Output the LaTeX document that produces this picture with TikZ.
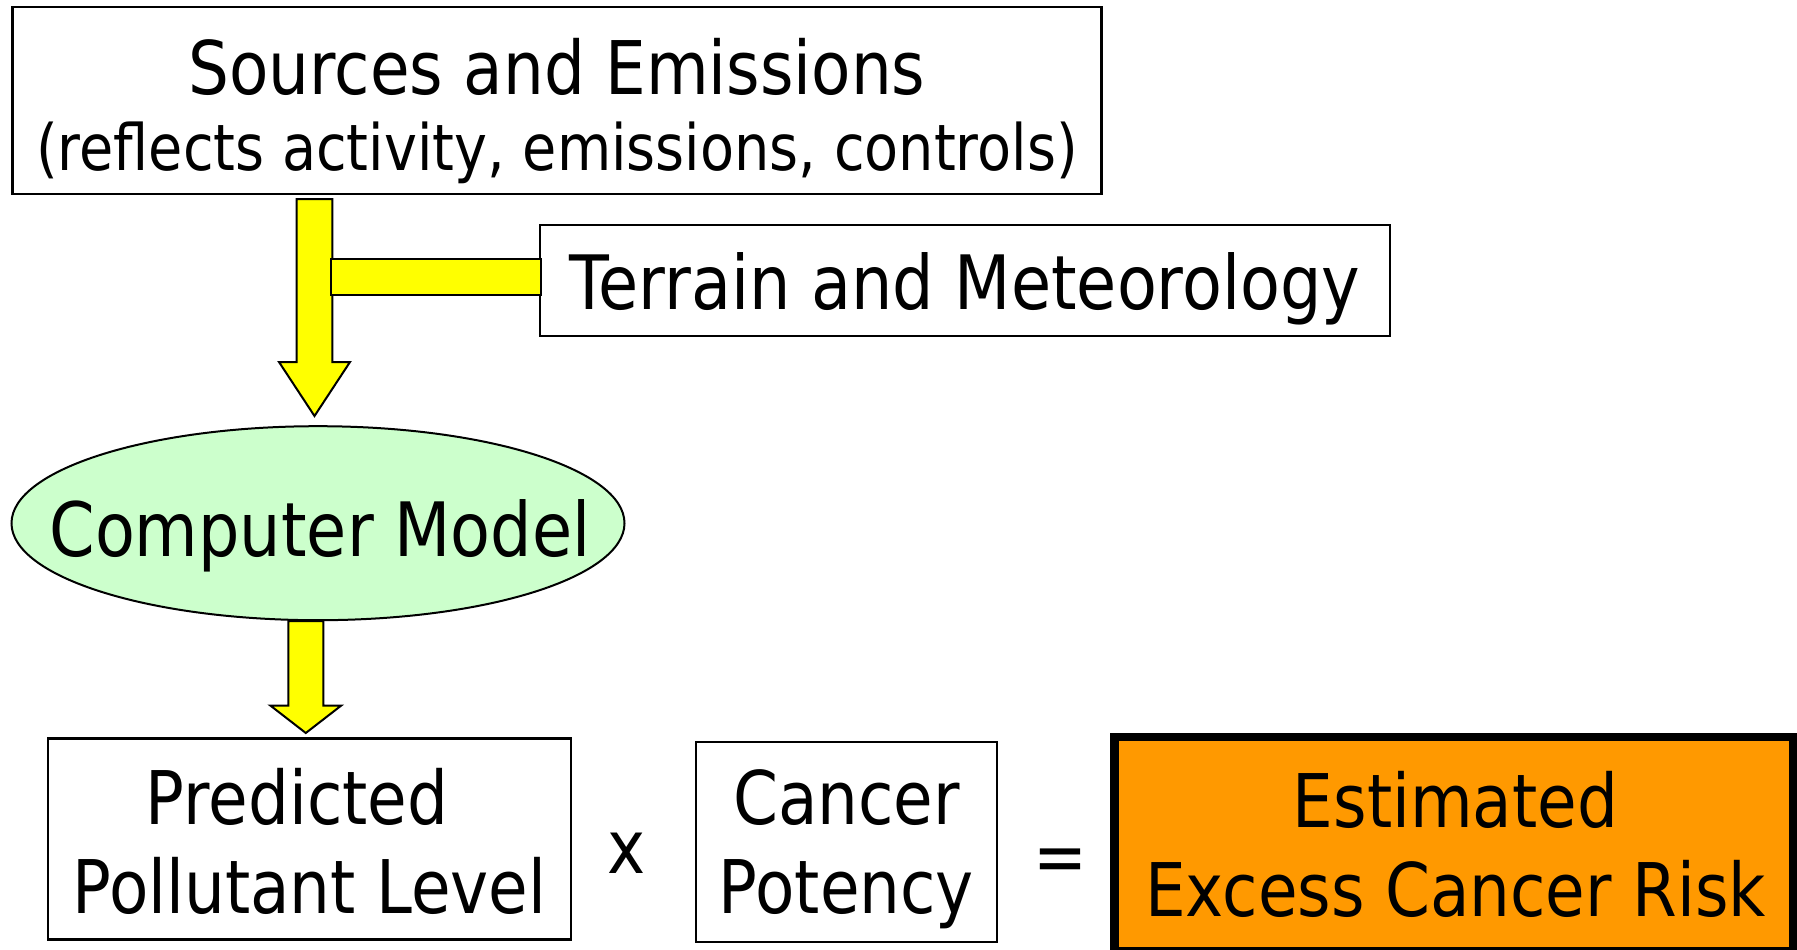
\documentclass[tikz,border=0pt]{standalone}
\usepackage{fontspec}
\setmainfont{DejaVu Sans}[FakeStretch=0.87]
\usetikzlibrary{shapes.geometric,calc}

\definecolor{arrowyellow}{HTML}{FFFF00}
\definecolor{modelgreen}{HTML}{CCFFCC}
\definecolor{riskorange}{HTML}{FF9900}

\tikzset{
  boxframe/.style={draw, line width=2.2pt, inner sep=0pt},
  boxtext/.style={align=center, inner sep=0pt, font=\fontsize{74}{89}\selectfont},
  fatarrow/.style={draw, line width=2pt, fill=arrowyellow, line join=miter},
}

% block arrow: from, to, half shaft, half head, head length
\newcommand{\blockarrow}[5]{%
  \draw[fatarrow] let \p1=(#1), \p2=(#2) in
    (\x1-#3pt,\y1) -- (\x1+#3pt,\y1) -- (\x1+#3pt,\y2+#5pt) -- (\x1+#4pt,\y2+#5pt)
    -- (\x2,\y2) -- (\x1-#4pt,\y2+#5pt) -- (\x1-#3pt,\y2+#5pt) -- cycle;}

\begin{document}
\begin{tikzpicture}[x=1pt, y=-1pt]
	\useasboundingbox (0,0) rectangle (1797,950);
	% top
	\node[boxframe, minimum width=1089pt, minimum height=187pt] (src) at (557,100.3) {};
	\node[boxtext, anchor=base, font=\fontsize{74}{76}\selectfont] (srctext) at (557,170)
		{Sources and Emissions\\{\fontsize{64}{76}\selectfont(reflects activity, emissions, controls)}};
	\node[boxframe, minimum width=850pt, minimum height=111pt, font=\fontsize{75}{80}\selectfont,
		text height=74pt, text depth=15pt] (terrain) at (965,280.2) {Terrain and Meteorology};
	\node[ellipse, draw, line width=2pt, fill=modelgreen, minimum width=613pt, minimum height=194pt,
		inner sep=0pt] (model) at (318,523.2) {};
	\node[boxtext, anchor=base, font=\fontsize{75}{80}\selectfont] (modeltext) at (320,556) {Computer Model};
		% arrows
		\coordinate (srcout) at (314.5,199);
		\coordinate (modelin) at (314.5,416);
		\blockarrow{srcout}{modelin}{17.8}{35.5}{54}
		\draw[fatarrow] (331,259) rectangle ([xshift=2pt, yshift=-15pt]terrain.west);
		\coordinate (modelout) at (305.8,621);
		\coordinate (predin) at (305.8,733);
		\blockarrow{modelout}{predin}{17.5}{35.5}{27.5}
	% bottom row
	\node[boxframe, minimum width=523pt, minimum height=201pt] (pred) at (309.5,839) {};
	\node[boxtext, anchor=base] (predtext) at (309.5,913) {Predicted\kern25pt\\Pollutant Level};
	\node[boxtext, anchor=base] (times) at (627,873) {x};
	\node[boxframe, minimum width=301pt, minimum height=200pt] (potency) at (846.5,842) {};
	\node[boxtext, anchor=base] (potencytext) at (846.5,913) {Cancer\\Potency};
	\node[boxtext] (equals) at (1060.5,866) {=};
	\node[boxframe, fill=riskorange, line width=6.7pt, minimum width=680pt, minimum height=215.3pt]
		(risk) at (1453.3,844.3) {};
		\draw[line width=2pt] ([xshift=7.7pt, yshift=-7pt]risk.north west)
			rectangle ([xshift=-7pt, yshift=7pt]risk.south east);
	\node[boxtext, anchor=base] (risktext) at (1455.5,916) {Estimated\\Excess Cancer Risk};
\end{tikzpicture}
\end{document}
